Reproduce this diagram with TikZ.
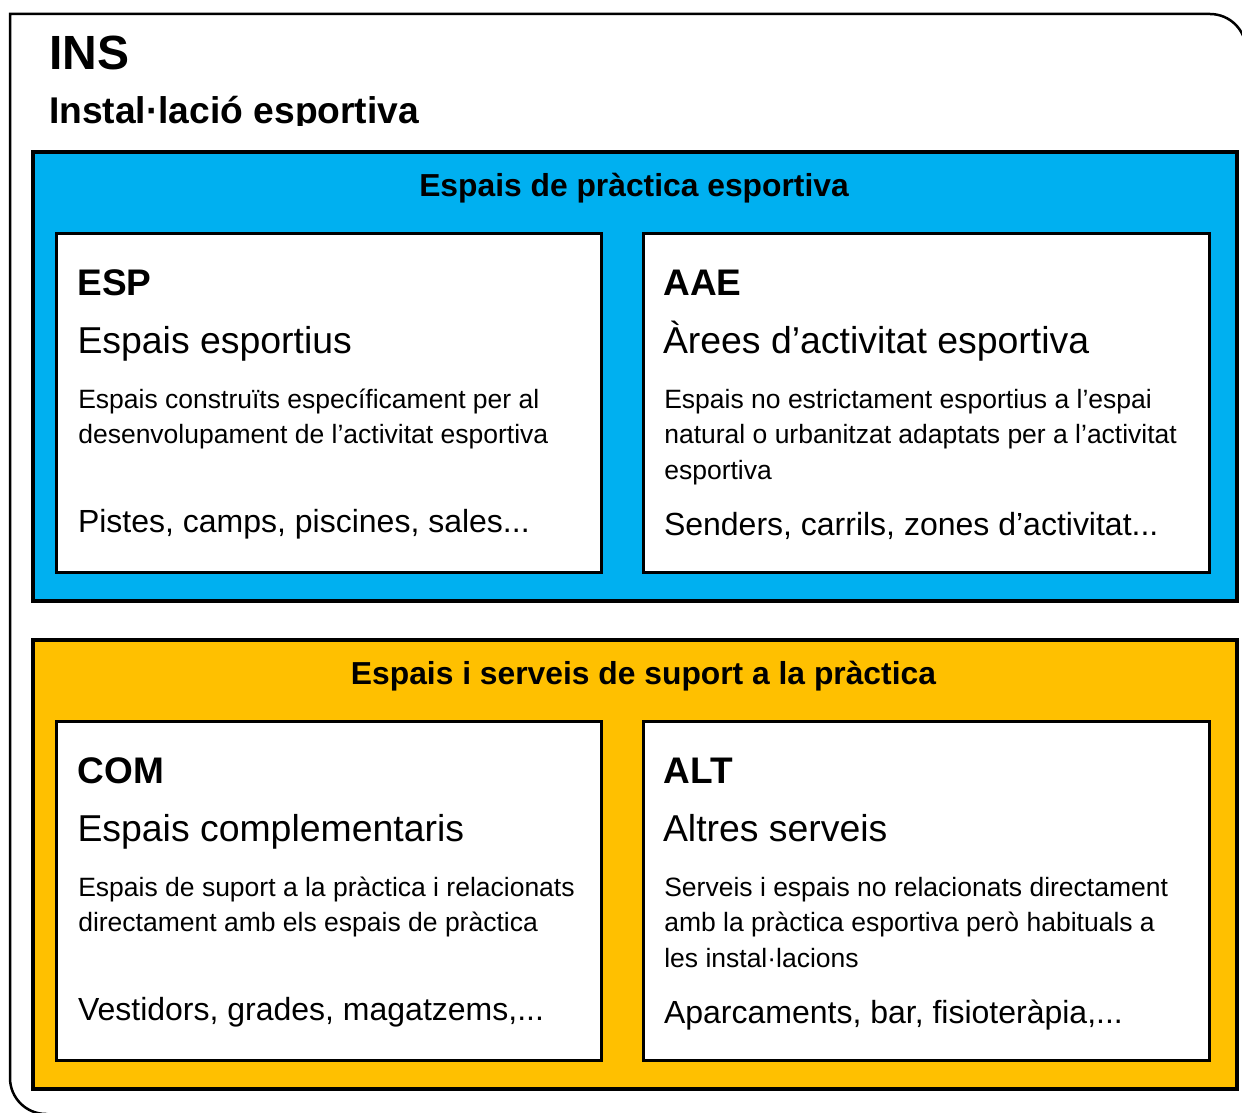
\documentclass[tikz,border=0pt]{standalone}
\usepackage{fontspec}
\setmainfont{Liberation Sans}
\definecolor{blueB}{HTML}{00B0F0}
\definecolor{yelB}{HTML}{FFC000}
\begin{document}
\begin{tikzpicture}[x=1pt,y=-1pt,
  txt/.style={anchor=base west, inner sep=0pt, outer sep=0pt},
  codetxt/.style={txt, font=\fontsize{37}{37}\selectfont\bfseries},
  nametxt/.style={txt, font=\fontsize{37.4}{37.4}\selectfont},
  desctxt/.style={txt, font=\fontsize{26.5}{26.5}\selectfont},
  extxt/.style={txt, font=\fontsize{32}{32}\selectfont},
  headtxt/.style={anchor=base, inner sep=0pt, outer sep=0pt, font=\fontsize{31.8}{31.8}\selectfont\bfseries},
  grouprect/.style={line width=4pt, draw=black},
  cardrect/.style={line width=3pt, draw=black, fill=white},
  cardshadow/.style={fill=black!45},
]
\useasboundingbox (0,0) rectangle (1242,1113);
\begin{scope}
  \clip (0,0) rectangle (1242,1113);
  \draw[line width=2.5pt, line join=miter] (10,14) -- (1210,14) arc[start angle=-90, end angle=0, radius=36]
     -- (1246,1118) -- (46,1118) -- (46,1114) arc[start angle=90, end angle=180, radius=36] -- cycle;
\end{scope}

% title
\node[txt, font=\fontsize{48}{48}\selectfont\bfseries] (ins) at (49.5,70) {INS};
\begin{scope}
  \clip (0,80) rectangle (1242,125.5);
  \node[txt, font=\fontsize{37.2}{37.2}\selectfont\bfseries] (inst) at (49,123.5) {Instal·lació esportiva};
\end{scope}

% blue group
\draw[grouprect, fill=blueB] (33,152) rectangle (1236.5,600.5);
\node[headtxt] (h1) at (634,196) {Espais de pràctica esportiva};
\fill[cardshadow] (58,235) rectangle (602.5,573.5);
\draw[cardrect] (56.5,233.5) rectangle (601,572);
\fill[cardshadow] (644.5,235) rectangle (1210.5,573.5);
\draw[cardrect] (643,233.5) rectangle (1209,572);

\node[codetxt] (esp) at (77.5,295.5) {ESP};
\node[nametxt] (espN) at (77.5,353) {Espais esportius};
\node[desctxt] (espD1) at (78.3,408) {Espais construïts específicament per al};
\node[desctxt] (espD2) at (78.3,443.5) {desenvolupament de l’activitat esportiva};
\node[extxt] (espE) at (78,532) {Pistes, camps, piscines, sales...};

\node[codetxt] (aae) at (663.5,295.5) {AAE};
\node[nametxt] (aaeN) at (663,353) {Àrees d’activitat esportiva};
\node[desctxt] (aaeD1) at (664.3,408) {Espais no estrictament esportius a l’espai};
\node[desctxt] (aaeD2) at (664.3,443.5) {natural o urbanitzat adaptats per a l’activitat};
\node[desctxt] (aaeD3) at (664.3,479) {esportiva};
\node[extxt] (aaeE) at (664,535) {Senders, carrils, zones d’activitat...};

% yellow group
\draw[grouprect, fill=yelB] (33,640) rectangle (1236.5,1088.5);
\node[headtxt] (h2) at (643.5,684) {Espais i serveis de suport a la pràctica};
\fill[cardshadow] (58,723) rectangle (602.5,1061.5);
\draw[cardrect] (56.5,721.5) rectangle (601,1060);
\fill[cardshadow] (644.5,723) rectangle (1210.5,1061.5);
\draw[cardrect] (643,721.5) rectangle (1209,1060);

\node[codetxt] (com) at (77.5,783.5) {COM};
\node[nametxt] (comN) at (77.5,841) {Espais complementaris};
\node[desctxt] (comD1) at (78.3,896) {Espais de suport a la pràctica i relacionats};
\node[desctxt] (comD2) at (78.3,931.5) {directament amb els espais de pràctica};
\node[extxt] (comE) at (78,1020) {Vestidors, grades, magatzems,...};

\node[codetxt] (alt) at (663.5,783.5) {ALT};
\node[nametxt] (altN) at (663,841) {Altres serveis};
\node[desctxt] (altD1) at (664.3,896) {Serveis i espais no relacionats directament};
\node[desctxt] (altD2) at (664.3,931.5) {amb la pràctica esportiva però habituals a};
\node[desctxt] (altD3) at (664.3,967) {les instal·lacions};
\node[extxt] (altE) at (664,1023) {Aparcaments, bar, fisioteràpia,...};
\end{tikzpicture}
\end{document}
